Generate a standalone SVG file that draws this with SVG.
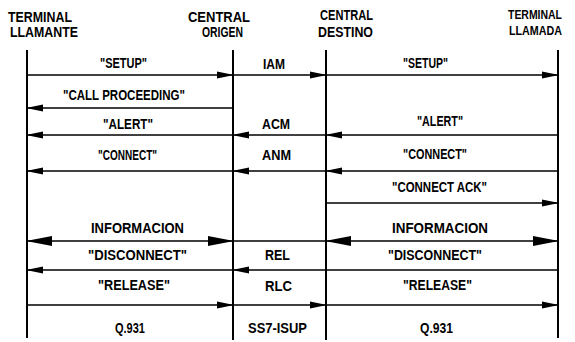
<svg xmlns="http://www.w3.org/2000/svg" width="575" height="342" viewBox="0 0 575 342">
  <style>
    text { font-family: "Liberation Sans", Arial, sans-serif; font-weight: bold; font-size: 14px; fill: #000; }
    .small { font-size: 13px; }
    .life { stroke: #000; stroke-width: 2; fill: none; }
    .msg { stroke: #000; stroke-width: 1.6; fill: none; }
    .fwd { marker-end: url(#head); }
    .big { marker-start: url(#bighead); marker-end: url(#bighead); }
  </style>
  <defs>
    <marker id="head" markerUnits="userSpaceOnUse" markerWidth="17" markerHeight="8" refX="16" refY="4" orient="auto">
      <path d="M0,0.4 L17,4 L0,7.6 z" fill="#000"/>
    </marker>
    <marker id="bighead" markerUnits="userSpaceOnUse" markerWidth="26" markerHeight="11" refX="25" refY="5.5" orient="auto-start-reverse">
      <path d="M0,0.5 L26,5.5 L0,10.5 z" fill="#000"/>
    </marker>
  </defs>
  <rect width="575" height="342" fill="#fff"/>

  <!-- participants: header and lifeline -->
  <g id="terminal-llamante">
    <text x="8" y="22" textLength="64" lengthAdjust="spacingAndGlyphs">TERMINAL</text>
    <text x="10" y="37" textLength="68" lengthAdjust="spacingAndGlyphs">LLAMANTE</text>
    <line class="life" x1="27" y1="50" x2="27" y2="338"/>
  </g>
  <g id="central-origen">
    <text x="188" y="22" textLength="62" lengthAdjust="spacingAndGlyphs">CENTRAL</text>
    <text x="202" y="37" textLength="41" lengthAdjust="spacingAndGlyphs">ORIGEN</text>
    <line class="life" x1="233" y1="50" x2="233" y2="340"/>
  </g>
  <g id="central-destino">
    <text x="320" y="20" textLength="53" lengthAdjust="spacingAndGlyphs">CENTRAL</text>
    <text x="318" y="37" textLength="55" lengthAdjust="spacingAndGlyphs">DESTINO</text>
    <line class="life" x1="326" y1="50" x2="326" y2="340"/>
  </g>
  <g id="terminal-llamada">
    <text class="small" x="508" y="19" textLength="54" lengthAdjust="spacingAndGlyphs">TERMINAL</text>
    <text class="small" x="509" y="35" textLength="53" lengthAdjust="spacingAndGlyphs">LLAMADA</text>
    <line class="life" x1="558" y1="50" x2="558" y2="338"/>
  </g>

  <!-- messages -->
  <g id="connectors">
    <!-- SETUP / IAM -->
    <line class="msg fwd" x1="27" y1="75" x2="233" y2="75"/>
    <line class="msg fwd" x1="233" y1="75" x2="326" y2="75"/>
    <line class="msg fwd" x1="326" y1="75" x2="558" y2="75"/>
    <!-- CALL PROCEEDING -->
    <line class="msg fwd" x1="233" y1="108" x2="27" y2="108"/>
    <!-- ALERT / ACM -->
    <line class="msg fwd" x1="558" y1="135" x2="326" y2="135"/>
    <line class="msg fwd" x1="326" y1="135" x2="233" y2="135"/>
    <line class="msg fwd" x1="233" y1="135" x2="27" y2="135"/>
    <!-- CONNECT / ANM -->
    <line class="msg fwd" x1="558" y1="171" x2="326" y2="171"/>
    <line class="msg fwd" x1="326" y1="171" x2="233" y2="171"/>
    <line class="msg fwd" x1="233" y1="171" x2="27" y2="171"/>
    <!-- CONNECT ACK -->
    <line class="msg fwd" x1="326" y1="203" x2="558" y2="203"/>
    <!-- INFORMACION (both directions) -->
    <line class="msg" x1="233" y1="241" x2="326" y2="241"/>
    <line class="msg big" x1="27" y1="241" x2="233" y2="241"/>
    <line class="msg big" x1="326" y1="241" x2="558" y2="241"/>
    <!-- DISCONNECT / REL -->
    <line class="msg" x1="558" y1="270" x2="326" y2="270"/>
    <line class="msg fwd" x1="326" y1="270" x2="233" y2="270"/>
    <line class="msg fwd" x1="233" y1="270" x2="27" y2="270"/>
    <!-- RELEASE / RLC -->
    <line class="msg fwd" x1="27" y1="305" x2="233" y2="305"/>
    <line class="msg fwd" x1="233" y1="305" x2="326" y2="305"/>
    <line class="msg fwd" x1="326" y1="305" x2="558" y2="305"/>
  </g>

  <!-- message labels -->
  <g id="labels">
    <text x="100" y="68" textLength="47" lengthAdjust="spacingAndGlyphs">"SETUP"</text>
    <text x="263" y="69" textLength="22" lengthAdjust="spacingAndGlyphs">IAM</text>
    <text x="403" y="68" textLength="45" lengthAdjust="spacingAndGlyphs">"SETUP"</text>

    <text x="63" y="100" textLength="122" lengthAdjust="spacingAndGlyphs">"CALL PROCEEDING"</text>

    <text x="103" y="129" textLength="50" lengthAdjust="spacingAndGlyphs">"ALERT"</text>
    <text x="262" y="129" textLength="28" lengthAdjust="spacingAndGlyphs">ACM</text>
    <text x="417" y="126" textLength="46" lengthAdjust="spacingAndGlyphs">"ALERT"</text>

    <text x="98" y="160" textLength="59" lengthAdjust="spacingAndGlyphs">"CONNECT"</text>
    <text x="262" y="160" textLength="29" lengthAdjust="spacingAndGlyphs">ANM</text>
    <text x="403" y="159" textLength="64" lengthAdjust="spacingAndGlyphs">"CONNECT"</text>

    <text x="392" y="192" textLength="95" lengthAdjust="spacingAndGlyphs">"CONNECT ACK"</text>

    <text x="91" y="233" textLength="93" lengthAdjust="spacingAndGlyphs">INFORMACION</text>
    <text x="392" y="233" textLength="96" lengthAdjust="spacingAndGlyphs">INFORMACION</text>

    <text x="88" y="260" textLength="99" lengthAdjust="spacingAndGlyphs">"DISCONNECT"</text>
    <text x="265" y="260" textLength="25" lengthAdjust="spacingAndGlyphs">REL</text>
    <text x="388" y="260" textLength="94" lengthAdjust="spacingAndGlyphs">"DISCONNECT"</text>

    <text x="98" y="290" textLength="72" lengthAdjust="spacingAndGlyphs">"RELEASE"</text>
    <text x="265" y="291" textLength="27" lengthAdjust="spacingAndGlyphs">RLC</text>
    <text x="403" y="290" textLength="69" lengthAdjust="spacingAndGlyphs">"RELEASE"</text>

    <text x="115" y="333" textLength="30" lengthAdjust="spacingAndGlyphs">Q.931</text>
    <text x="248" y="333" textLength="59" lengthAdjust="spacingAndGlyphs">SS7-ISUP</text>
    <text x="420" y="333" textLength="33" lengthAdjust="spacingAndGlyphs">Q.931</text>
  </g>
</svg>
